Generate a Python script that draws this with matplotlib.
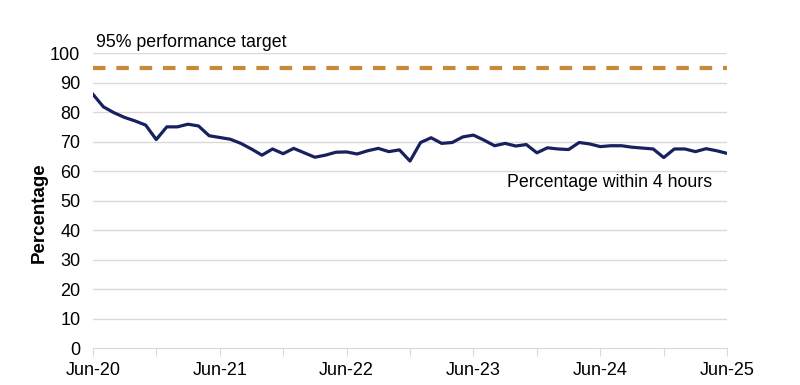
import matplotlib.pyplot as plt

plt.rcParams["font.family"] = ["Liberation Sans", "DejaVu Sans"]

# monthly share of attendances within 4 hours, Jun-20 .. Jun-25
within_4h = [
    86.1, 81.8, 79.8, 78.2, 77.0, 75.6, 70.7, 75.0, 75.0, 75.9,
    75.3, 72.0, 71.4, 70.8, 69.4, 67.5, 65.4, 67.5, 65.9, 67.7,
    66.2, 64.7, 65.4, 66.4, 66.5, 65.8, 66.9, 67.7, 66.6, 67.2,
    63.4, 69.7, 71.3, 69.4, 69.7, 71.6, 72.2, 70.5, 68.6, 69.4,
    68.5, 69.0, 66.2, 67.9, 67.5, 67.3, 69.7, 69.2, 68.3, 68.6,
    68.6, 68.1, 67.8, 67.5, 64.6, 67.5, 67.5, 66.6, 67.6, 66.9,
    66.0,
]
target = 95
year_labels = ["Jun-20", "Jun-21", "Jun-22", "Jun-23", "Jun-24", "Jun-25"]

months = list(range(len(within_4h)))

fig = plt.figure(figsize=(8, 3.85), dpi=100)
ax = fig.add_axes([0.116, 0.096, 0.793, 0.766])

grid_col = "#d9d9d9"
for v in range(10, 101, 10):
    ax.axhline(v, color=grid_col, lw=1, zorder=0)

ax.axhline(target, color="#c8893a", lw=3, dashes=(3, 2.6), zorder=2)
ax.plot(months, within_4h, color="#16215e", lw=2.3, zorder=3)

ax.set_xlim(0, 60)
ax.set_ylim(0, 100)
ax.set_yticks(range(0, 101, 10))
ax.set_xticks(range(0, 61, 6))
# label every other tick (yearly), ticks every 6 months
xlabels = []
for k in range(11):
    xlabels.append(year_labels[k // 2] if k % 2 == 0 else "")
ax.set_xticklabels(xlabels)

for s in ["top", "right", "left"]:
    ax.spines[s].set_visible(False)
ax.spines["bottom"].set_color(grid_col)
ax.tick_params(axis="y", length=0, labelsize=13, pad=9)
ax.tick_params(axis="x", length=6, color=grid_col, labelsize=13, pad=4)

ax.set_ylabel("Percentage", fontsize=13.5, fontweight="bold")
ax.yaxis.set_label_coords(-0.071, 0.46)

ax.text(0.3, 103.5, "95% performance target", fontsize=12.8, va="center",
        ha="left", clip_on=False)
ax.text(58.6, 56, "Percentage within 4 hours", fontsize=12.8, va="center", ha="right")

fig.savefig("out.png", dpi=100)
